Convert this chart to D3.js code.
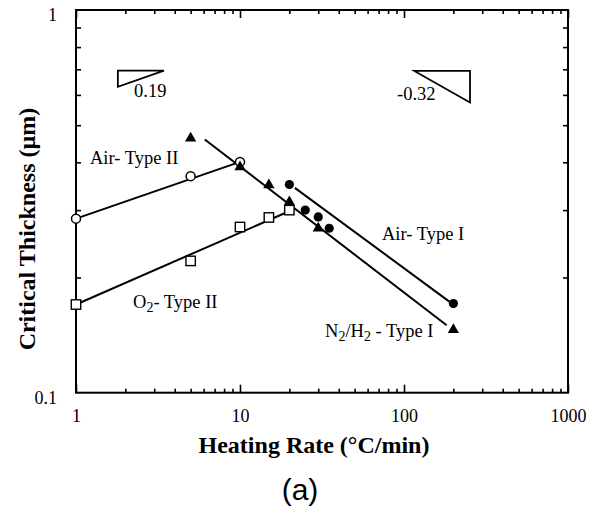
<!DOCTYPE html>
<html><head><meta charset="utf-8">
<script src="https://cdn.jsdelivr.net/npm/d3@7"></script>
<style>body{margin:0;background:#fff} svg{display:block}</style>
</head><body>
<svg id="chart" width="599" height="509"></svg>
<script>
// ---- data (heating rate in °C/min, critical thickness in µm) ----
const airTypeIIRate  = [1, 5, 10];
const airTypeIIThick = [0.285, 0.368, 0.401];

const o2TypeIIRate  = [1, 5, 10, 15, 20];
const o2TypeIIThick = [0.170, 0.221, 0.271, 0.287, 0.300];

const n2h2TypeIRate  = [5, 10, 15, 20, 30, 200];
const n2h2TypeIThick = [0.462, 0.389, 0.349, 0.315, 0.269, 0.146];

const airTypeIRate  = [20, 25, 30, 35, 200];
const airTypeIThick = [0.350, 0.300, 0.288, 0.269, 0.171];

// fitted lines (endpoints)
const airTypeIIFitRate  = [1, 10];
const airTypeIIFitThick = [0.285, 0.401];
const o2TypeIIFitRate   = [1, 19.6];
const o2TypeIIFitThick  = [0.170, 0.297];
const n2h2TypeIFitRate  = [6.1, 182];
const n2h2TypeIFitThick = [0.459, 0.150];
const airTypeIFitRate   = [21.6, 189];
const airTypeIFitThick  = [0.343, 0.173];

// slope triangles
const slopeUpRate   = [1.80, 3.44, 1.80];
const slopeUpThick  = [0.694, 0.694, 0.630];
const slopeDnRate   = [115.6, 252.6, 252.6];
const slopeDnThick  = [0.693, 0.693, 0.573];

const xMajorTicks = [1, 10, 100, 1000];
const xMinorTicks = [2,3,4,5,6,7,8,9,20,30,40,50,60,70,80,90,200,300,400,500,600,700,800,900];
const yMajorTicks = [0.1, 1];
const yMinorTicks = [0.2,0.3,0.4,0.5,0.6,0.7,0.8,0.9];

// ---- layout ----
const L = 76, R = 568, T = 10, B = 392.7;
const svg = d3.select("#chart");
const x = d3.scaleLog().domain([1, 1000]).range([L, R]);
const y = d3.scaleLog().domain([0.1, 1]).range([B, T]);
const serif = "'Liberation Serif','Times New Roman',serif";
const zip = (a, b) => a.map((v, i) => [v, b[i]]);

// frame
svg.append("rect").attr("x", L).attr("y", T).attr("width", R - L).attr("height", B - T)
  .attr("fill", "none").attr("stroke", "#000").attr("stroke-width", 2);

function styleAxis(g) {
  g.select(".domain").remove();
  g.selectAll(".tick line").attr("stroke", "#000").attr("stroke-width", 1.6);
  g.selectAll("text").attr("font-family", serif).attr("font-size", 18).attr("fill", "#000");
}
// bottom
svg.append("g").attr("transform", `translate(0,${B})`)
  .call(d3.axisBottom(x).tickValues(xMinorTicks).tickSize(-4).tickFormat("")).call(styleAxis);
svg.append("g").attr("transform", `translate(0,${B})`)
  .call(d3.axisBottom(x).tickValues(xMajorTicks).tickSize(-8).tickPadding(16.5).tickFormat(d3.format("d")))
  .call(styleAxis);
// top
svg.append("g").attr("transform", `translate(0,${T})`)
  .call(d3.axisTop(x).tickValues(xMinorTicks).tickSize(-4).tickFormat("")).call(styleAxis);
svg.append("g").attr("transform", `translate(0,${T})`)
  .call(d3.axisTop(x).tickValues(xMajorTicks).tickSize(-8).tickFormat("")).call(styleAxis);
// left
svg.append("g").attr("transform", `translate(${L},0)`)
  .call(d3.axisLeft(y).tickValues(yMinorTicks).tickSize(-5).tickFormat("")).call(styleAxis);
svg.append("g").attr("transform", `translate(${L},0)`)
  .call(d3.axisLeft(y).tickValues(yMajorTicks).tickSize(0).tickPadding(19).tickFormat(d => d === 1 ? "1" : "0.1"))
  .call(styleAxis)
  .selectAll("text").attr("dy", "0.6em");
// right
svg.append("g").attr("transform", `translate(${R},0)`)
  .call(d3.axisRight(y).tickValues(yMinorTicks).tickSize(-5).tickFormat("")).call(styleAxis);

// fit lines
const line = d3.line().x(d => x(d[0])).y(d => y(d[1]));
[[airTypeIIFitRate, airTypeIIFitThick], [o2TypeIIFitRate, o2TypeIIFitThick],
 [n2h2TypeIFitRate, n2h2TypeIFitThick], [airTypeIFitRate, airTypeIFitThick]].forEach(([a, b]) => {
  svg.append("path").attr("d", line(zip(a, b))).attr("fill", "none")
    .attr("stroke", "#000").attr("stroke-width", 2);
});

// slope triangles
[[slopeUpRate, slopeUpThick], [slopeDnRate, slopeDnThick]].forEach(([a, b]) => {
  svg.append("path").attr("d", line(zip(a, b)) + "Z").attr("fill", "none")
    .attr("stroke", "#000").attr("stroke-width", 1.8);
});

// markers
svg.append("g").selectAll("circle").data(zip(airTypeIIRate, airTypeIIThick)).join("circle")
  .attr("cx", d => x(d[0])).attr("cy", d => y(d[1])).attr("r", 4.5)
  .attr("fill", "#fff").attr("stroke", "#000").attr("stroke-width", 1.5);
svg.append("g").selectAll("rect").data(zip(o2TypeIIRate, o2TypeIIThick)).join("rect")
  .attr("x", d => x(d[0]) - 4.7).attr("y", d => y(d[1]) - 4.7).attr("width", 9.4).attr("height", 9.4)
  .attr("fill", "#fff").attr("stroke", "#000").attr("stroke-width", 1.4);
svg.append("g").selectAll("path").data(zip(n2h2TypeIRate, n2h2TypeIThick)).join("path")
  .attr("transform", d => `translate(${x(d[0])},${y(d[1])})`)
  .attr("d", d3.symbol(d3.symbolTriangle, 55)).attr("fill", "#000");
svg.append("g").selectAll("circle").data(zip(airTypeIRate, airTypeIThick)).join("circle")
  .attr("cx", d => x(d[0])).attr("cy", d => y(d[1])).attr("r", 4.6).attr("fill", "#000");

// annotations
function label(xp, yp, parts, size) {
  const t = svg.append("text").attr("x", xp).attr("y", yp)
    .attr("font-family", serif).attr("font-size", size || 18.5).attr("fill", "#000");
  parts.forEach(p => {
    if (typeof p === "string") t.append("tspan").text(p);
    else t.append("tspan").attr("dy", p.dy).attr("font-size", p.size).text(p.t);
  });
  return t;
}
label(90, 164, ["Air- Type II"]);
label(133, 308, ["O", {t: "2", dy: 4, size: 14}, {t: "- Type II", dy: -4}]);
label(382, 240, ["Air- Type I"]);
label(325, 337, ["N", {t: "2", dy: 4, size: 14}, {t: "/H", dy: -4}, {t: "2", dy: 4, size: 14}, {t: " - Type I", dy: -4}]);
label(134, 97, ["0.19"]);
label(397, 100, ["-0.32"]);

// axis titles
svg.append("text").attr("x", 314).attr("y", 453).attr("text-anchor", "middle")
  .attr("font-family", serif).attr("font-weight", "bold").attr("font-size", 24)
  .text("Heating Rate (°C/min)");
svg.append("text").attr("transform", "translate(35,229) rotate(-90)").attr("text-anchor", "middle")
  .attr("font-family", serif).attr("font-weight", "bold").attr("font-size", 24)
  .text("Critical Thickness (µm)");
svg.append("text").attr("x", 300).attr("y", 500).attr("text-anchor", "middle")
  .attr("font-family", "'Liberation Sans',Arial,sans-serif").attr("font-size", 30)
  .text("(a)");
</script>
</body></html>
